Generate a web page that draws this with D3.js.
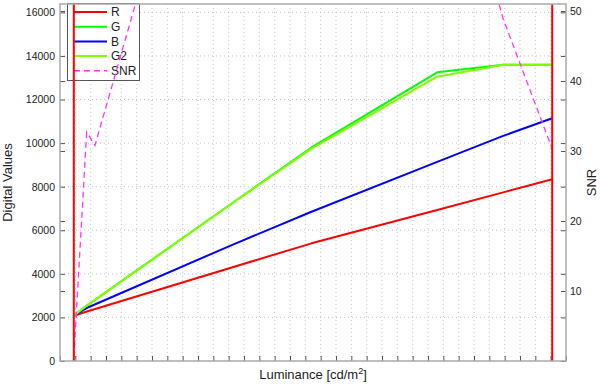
<!DOCTYPE html>
<html>
<head>
<meta charset="utf-8">
<script src="https://cdn.jsdelivr.net/npm/d3@7"></script>
<style>
  body { margin: 0; background: #fff; }
  text { font-family: "Liberation Sans", Arial, Helvetica, sans-serif; fill: #222; }
</style>
</head>
<body>
<div id="chart"></div>
<script>
// luminance sample points (x) shared by the digital value curves
const lum = [9, 17, 112, 164, 246, 289, 321];
const valR = [2080, 2260, 4290, 5400, 6930, 7740, 8340];
const valG = [2080, 2520, 7230, 9800, 13250, 13600, 13600];
const valB = [2080, 2420, 5320, 6850, 9140, 10330, 11140];
const valG2 = [2080, 2520, 7230, 9750, 13050, 13600, 13600];

// SNR curve (right axis), it leaves the top of the plot
const lumSnr = [9, 17.4, 22.8, 112, 164, 246, 289, 321];
const snr = [0.5, 32.7, 30.8, 99, 105, 83, 48.9, 30.3];

// red limit lines at the ends of the range
const limits = [9, 321];

const leftTicks = [0, 2000, 4000, 6000, 8000, 10000, 12000, 14000, 16000];
const rightTicks = [10, 20, 30, 40, 50];
const xTicks = d3.range(0, 331, 10);

const series = [
  { name: "R", color: "#ff0000", values: valR },
  { name: "G", color: "#00ff00", values: valG },
  { name: "B", color: "#0000ff", values: valB },
  { name: "G2", color: "#80ff00", values: valG2 }
];

// dimensions and margins
const margin = ({ top: 4, right: 34, bottom: 23, left: 60 });
const width = 600 - margin.left - margin.right;
const height = 384 - margin.top - margin.bottom;

const svg = d3.select("#chart")
  .append("svg")
    .attr("width", 600)
    .attr("height", 384)
  .append("g")
    .attr("transform", "translate(" + margin.left + "," + margin.top + ")");

const x = d3.scaleLinear().domain([0, 330]).range([0, width]);
const y = d3.scaleLinear().domain([0, 16384]).range([height, 0]);
const ySnr = d3.scaleLinear().domain([0, 51]).range([height, 0]);

svg.append("defs").append("clipPath").attr("id", "clip")
  .append("rect").attr("width", width).attr("height", height);

// dotted grid
const grid = svg.append("g").attr("stroke", "#c4c4c4").attr("stroke-dasharray", "1,3");
grid.selectAll(".vg").data(xTicks.slice(1, -1)).enter().append("line")
  .attr("x1", d => x(d)).attr("x2", d => x(d))
  .attr("y1", 0).attr("y2", height);
grid.selectAll(".hg").data(leftTicks.slice(1)).enter().append("line")
  .attr("x1", 0).attr("x2", width)
  .attr("y1", d => y(d)).attr("y2", d => y(d));

// axes, ticks point inward
function styleAxis(g) {
  g.select(".domain").remove();
  g.selectAll(".tick line").attr("stroke", "#555");
  g.selectAll(".tick text").style("font-size", "10.5px").attr("fill", "#222");
}

svg.append("g")
  .attr("transform", "translate(0," + height + ")")
  .call(d3.axisBottom(x).tickValues(xTicks).tickSize(-5).tickFormat(""))
  .call(styleAxis);

svg.append("g")
  .call(d3.axisLeft(y).tickValues(leftTicks).tickSize(-5).tickPadding(5).tickFormat(d3.format("d")))
  .call(styleAxis);

svg.append("g")
  .call(d3.axisLeft(ySnr).tickValues(rightTicks).tickSize(-5).tickFormat(""))
  .call(styleAxis);

svg.append("g")
  .attr("transform", "translate(" + width + ",0)")
  .call(d3.axisRight(y).tickValues(leftTicks).tickSize(-5).tickFormat(""))
  .call(styleAxis);

svg.append("g")
  .attr("transform", "translate(" + width + ",0)")
  .call(d3.axisRight(ySnr).tickValues(rightTicks).tickSize(-5).tickPadding(4).tickFormat(d3.format("d")))
  .call(styleAxis);

// digital value curves
const line = d3.line()
  .x((d, i) => x(lum[i]))
  .y(d => y(d));

svg.append("g").attr("clip-path", "url(#clip)")
  .selectAll("path")
  .data(series)
  .enter().append("path")
    .attr("fill", "none")
    .attr("stroke", d => d.color)
    .attr("stroke-width", 2)
    .attr("stroke-linejoin", "round")
    .attr("d", d => line(d.values));

// legend
const legend = svg.append("g").attr("transform", "translate(7.5,-0.5)");
legend.append("rect")
  .attr("width", 72).attr("height", 77)
  .attr("fill", "#fff").attr("stroke", "#555");

const legendItems = series.map(d => ({ name: d.name, color: d.color, dash: null }))
  .concat([{ name: "SNR", color: "#ff33ff", dash: "6,4" }]);

const item = legend.selectAll(".item")
  .data(legendItems)
  .enter().append("g")
    .attr("transform", (d, i) => "translate(0," + (8.5 + i * 14.7) + ")");
item.append("line")
  .attr("x1", 6.5).attr("x2", 39.5)
  .attr("stroke", d => d.color)
  .attr("stroke-width", d => d.dash ? 1.5 : 2)
  .attr("stroke-dasharray", d => d.dash);
item.append("text")
  .attr("x", 43.5).attr("dy", "0.35em")
  .style("font-size", "12px")
  .text(d => d.name);

// SNR on the right axis
const snrLine = d3.line()
  .x((d, i) => x(lumSnr[i]))
  .y(d => ySnr(d));

svg.append("path")
  .attr("clip-path", "url(#clip)")
  .attr("fill", "none")
  .attr("stroke", "#ff33ff")
  .attr("stroke-width", 1.3)
  .attr("stroke-dasharray", "6,4")
  .attr("d", snrLine(snr));

svg.selectAll(".limit")
  .data(limits)
  .enter().append("line")
    .attr("x1", d => x(d)).attr("x2", d => x(d))
    .attr("y1", 0).attr("y2", height)
    .attr("stroke", "#ff0000")
    .attr("stroke-width", 2);

// axes box
svg.append("rect")
  .attr("width", width).attr("height", height)
  .attr("fill", "none")
  .attr("stroke", "#aaa")
  .attr("stroke-width", 1.5);

// axis labels
const xLabel = svg.append("text")
  .attr("x", width / 2)
  .attr("y", height + 18)
  .style("text-anchor", "middle")
  .style("font-size", "13px");
xLabel.append("tspan").text("Luminance [cd/m");
xLabel.append("tspan").attr("dy", "-5").style("font-size", "9px").text("2");
xLabel.append("tspan").attr("dy", "5").text("]");

svg.append("text")
  .attr("transform", "translate(" + (-48) + "," + (height / 2) + ") rotate(-90)")
  .style("text-anchor", "middle")
  .style("font-size", "13px")
  .text("Digital Values");

svg.append("text")
  .attr("transform", "translate(" + (width + 25) + "," + (height / 2) + ") rotate(-90)")
  .attr("dy", "0.35em")
  .style("text-anchor", "middle")
  .style("font-size", "13px")
  .text("SNR");
</script>
</body>
</html>
